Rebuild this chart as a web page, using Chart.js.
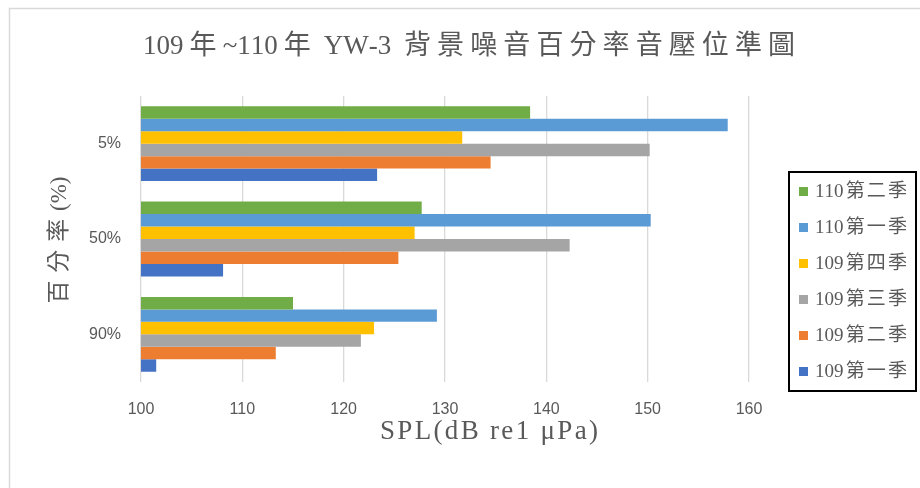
<!DOCTYPE html>
<html>
<head>
<meta charset="utf-8">
<script src="https://cdn.jsdelivr.net/npm/chart.js@4/dist/chart.umd.min.js"></script>
<style>
  html, body { margin: 0; padding: 0; background: #fff; }
  #wrap { width: 920px; height: 488px; }
</style>
</head>
<body>
<div id="wrap"><canvas id="c" width="920" height="488"></canvas></div>
<script>
// Chart text
const titleText = '109年~110年 YW-3 背景噪音百分率音壓位準圖';
const xAxisTitle = 'SPL(dB re1 μPa)';
const yAxisTitle = '百分率(%)';

// Categories (percentile levels) and tick values
const percentiles = ['5%', '50%', '90%'];
const xTicks = [100, 110, 120, 130, 140, 150, 160];

// Series names, one per quarter
const seriesNames = ['110第二季', '110第一季', '109第四季', '109第三季', '109第二季', '109第一季'];

// SPL values (dB re1 μPa) for 5%, 50%, 90%
const q110_2 = [138.4, 127.7, 115.0];
const q110_1 = [157.9, 150.3, 129.2];
const q109_4 = [131.7, 127.0, 123.0];
const q109_3 = [150.2, 142.3, 121.7];
const q109_2 = [134.5, 125.4, 113.3];
const q109_1 = [123.3, 108.1, 101.5];

const seriesValues = [q110_2, q110_1, q109_4, q109_3, q109_2, q109_1];
const seriesColors = ['#70AD47', '#5B9BD5', '#FFC000', '#A5A5A5', '#ED7D31', '#4472C4'];

const SERIF = "'Liberation Serif', 'Noto Sans CJK TC', serif";
const SANS = "'Liberation Sans Narrow', 'Liberation Sans', sans-serif";
const TEXT_GREY = '#595959';

const isCJK = ch => /[\u3000-\u9fff\uf900-\ufaff]/.test(ch);

// Draw text centred on (cx, cy); extra room up to `width` goes after CJK glyphs
// (or spread evenly when `even` is set)
function spacedText(ctx, text, cx, cy, font, width, opts = {}) {
  const chars = Array.from(text);
  ctx.save();
  ctx.font = font;
  ctx.fillStyle = TEXT_GREY;
  ctx.textBaseline = 'middle';
  ctx.textAlign = 'left';
  const widths = chars.map(c => ctx.measureText(c).width);
  const total = widths.reduce((a, b) => a + b, 0);
  const gaps = chars.map((c, i) => i < chars.length - 1 && (opts.even || isCJK(c) || isCJK(chars[i + 1])));
  const nGaps = gaps.filter(Boolean).length;
  const extra = nGaps ? (width - total) / nGaps : 0;
  ctx.translate(cx, cy);
  if (opts.rotate) ctx.rotate(opts.rotate);
  let x = -width / 2;
  chars.forEach((c, i) => {
    ctx.fillText(c, x, 0);
    x += widths[i] + (gaps[i] ? extra : 0);
  });
  ctx.restore();
}

const decor = {
  id: 'decor',
  beforeDraw(chart) {
    const ctx = chart.ctx;
    ctx.save();
    ctx.fillStyle = '#fff';
    ctx.fillRect(0, 0, chart.width, chart.height);
    // outer frame
    ctx.strokeStyle = '#d9d9d9';
    ctx.lineWidth = 1.5;
    ctx.strokeRect(9.5, 8.5, chart.width + 20, chart.height + 20);
    ctx.restore();
  },
  afterDraw(chart) {
    const ctx = chart.ctx;
    const area = chart.chartArea;
    const midY = (area.top + area.bottom) / 2;

    // chart title
    spacedText(ctx, titleText, 469, 47, '27px ' + SERIF, 652);
    // axis titles
    spacedText(ctx, xAxisTitle, 489, 432, '27px ' + SERIF, 218, { even: true });
    spacedText(ctx, yAxisTitle, 60, midY + 1, '23px ' + SERIF, 127, { rotate: -Math.PI / 2 });

    // legend with a black frame
    const left = area.right + 40;
    const right = chart.width - 4;
    const top = 172, bottom = 391;
    ctx.save();
    ctx.strokeStyle = '#000';
    ctx.lineWidth = 2;
    ctx.strokeRect(left, top, right - left, bottom - top);
    const items = chart.data.datasets;
    const step = 36;
    const firstY = (top + bottom) / 2 - step * (items.length - 1) / 2;
    items.forEach((ds, i) => {
      const y = firstY + i * step;
      ctx.fillStyle = ds.backgroundColor;
      ctx.fillRect(left + 10, y - 4.5, 9, 9);
      spacedText(ctx, ds.label, left + 26 + 46, y + 1, '19px ' + SERIF, 92);
    });
    ctx.restore();
  }
};

const datasets = seriesNames.map((name, i) => ({
  label: name,
  data: seriesValues[i],
  backgroundColor: seriesColors[i],
  borderWidth: 0,
  categoryPercentage: 0.785,
  barPercentage: 1.0
}));

new Chart(document.getElementById('c'), {
  type: 'bar',
  data: { labels: percentiles, datasets },
  options: {
    indexAxis: 'y',
    responsive: false,
    animation: false,
    devicePixelRatio: 1,
    layout: { padding: { top: 96, left: 0, right: 171, bottom: 6 } },
    plugins: {
      legend: { display: false },
      title: { display: false },
      tooltip: { enabled: false }
    },
    scales: {
      x: {
        min: 100,
        max: 160,
        afterBuildTicks(s) { s.ticks = xTicks.map(v => ({ value: v })); },
        ticks: { color: TEXT_GREY, font: { family: SANS, size: 16 }, padding: 18 },
        grid: { color: '#d9d9d9', lineWidth: 1.3, drawTicks: false },
        border: { display: false },
        afterFit(s) { s.height = 100; }
      },
      y: {
        ticks: { color: TEXT_GREY, font: { family: SANS, size: 16 }, padding: 20 },
        grid: { display: false, drawTicks: false },
        border: { display: false },
        afterFit(s) { s.width = 141; }
      }
    }
  },
  plugins: [decor]
});
</script>
</body>
</html>
